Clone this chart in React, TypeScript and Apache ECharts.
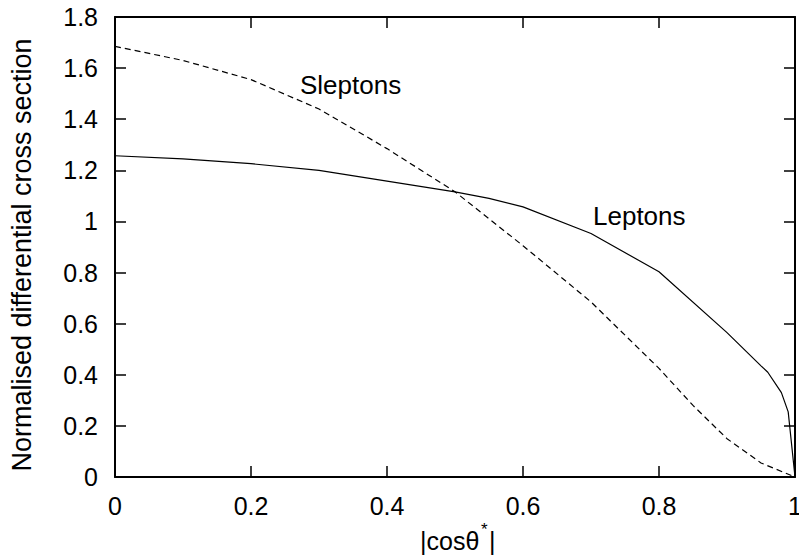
import React, { useEffect, useRef } from "react";
import * as echarts from "echarts";

const leptonX = [0, 0.1, 0.2, 0.3, 0.4, 0.5, 0.55, 0.6, 0.7, 0.8, 0.9, 0.95, 0.96, 0.98, 0.99, 1.0];
const leptonY = [1.257, 1.245, 1.226, 1.2, 1.158, 1.116, 1.09, 1.057, 0.953, 0.803, 0.565, 0.435, 0.41, 0.33, 0.255, 0];

const sleptonX = [0, 0.1, 0.2, 0.3, 0.4, 0.5, 0.6, 0.7, 0.8, 0.85, 0.9, 0.95, 1.0];
const sleptonY = [1.685, 1.63, 1.555, 1.44, 1.285, 1.116, 0.905, 0.685, 0.425, 0.28, 0.15, 0.055, 0];

const xTicks = { min: 0, max: 1, interval: 0.2 };
const yTicks = { min: 0, max: 1.8, interval: 0.2 };

const yTitle = "Normalised differential cross section";
const curveLabels = ["Sleptons", "Leptons"];

const FONT = "'Liberation Sans', Arial, Helvetica, sans-serif";

export default function App() {
  const ref = useRef<HTMLDivElement>(null);
  useEffect(() => {
    if (!ref.current) return;
    const chart = echarts.init(ref.current, undefined, { renderer: "svg" });
    const axisLine = { show: true, onZero: false, lineStyle: { color: "#000", width: 2 } };
    const tick = { show: true, inside: true, length: 11, lineStyle: { color: "#000", width: 1.5 } };
    chart.setOption({
      animation: false,
      backgroundColor: "#fff",
      grid: { left: 115, right: 4, top: 17, bottom: 81, containLabel: false, outerBoundsMode: "none" },
      xAxis: [
        {
          type: "value", ...xTicks, position: "bottom",
          axisLine, axisTick: tick, splitLine: { show: false },
          axisLabel: { color: "#000", fontSize: 25, fontFamily: FONT, margin: 16 },
        },
        {
          type: "value", ...xTicks, position: "top",
          axisLine, axisTick: tick, splitLine: { show: false }, axisLabel: { show: false },
        },
      ],
      yAxis: [
        {
          type: "value", ...yTicks, position: "left",
          axisLine, axisTick: tick, splitLine: { show: false },
          axisLabel: { color: "#000", fontSize: 25, fontFamily: FONT, margin: 17 },
        },
        {
          type: "value", ...yTicks, position: "right",
          axisLine, axisTick: tick, splitLine: { show: false }, axisLabel: { show: false },
        },
      ],
      series: [
        {
          type: "line", name: "Leptons", showSymbol: false, smooth: false,
          data: leptonX.map((x, i) => [x, leptonY[i]]),
          lineStyle: { color: "#000", width: 1.2, type: "solid" },
        },
        {
          type: "line", name: "Sleptons", showSymbol: false, smooth: false,
          data: sleptonX.map((x, i) => [x, sleptonY[i]]),
          lineStyle: { color: "#000", width: 1.2, type: [6, 4] },
        },
      ],
      graphic: [
        { type: "text", left: 300, top: 72, style: { text: curveLabels[0], fontSize: 26, fontFamily: FONT, fill: "#000" } },
        { type: "text", left: 593, top: 203, style: { text: curveLabels[1], fontSize: 26, fontFamily: FONT, fill: "#000" } },
        {
          type: "text", x: 22, y: 255, rotation: Math.PI / 2,
          style: { text: yTitle, fontSize: 27, fontFamily: FONT, fill: "#000", align: "center", verticalAlign: "middle" },
        },
        { type: "text", x: 420, y: 541, style: { text: "|cosθ", fontSize: 25, fontFamily: FONT, fill: "#000", verticalAlign: "middle" } },
        { type: "text", x: 481, y: 529, style: { text: "*", fontSize: 17, fontFamily: FONT, fill: "#000", verticalAlign: "middle" } },
        { type: "text", x: 489, y: 541, style: { text: "|", fontSize: 25, fontFamily: FONT, fill: "#000", verticalAlign: "middle" } },
      ],
    });
    return () => chart.dispose();
  }, []);
  return <div ref={ref} style={{ position: "absolute", left: 0, top: 0, width: 799, height: 558 }} />;
}
